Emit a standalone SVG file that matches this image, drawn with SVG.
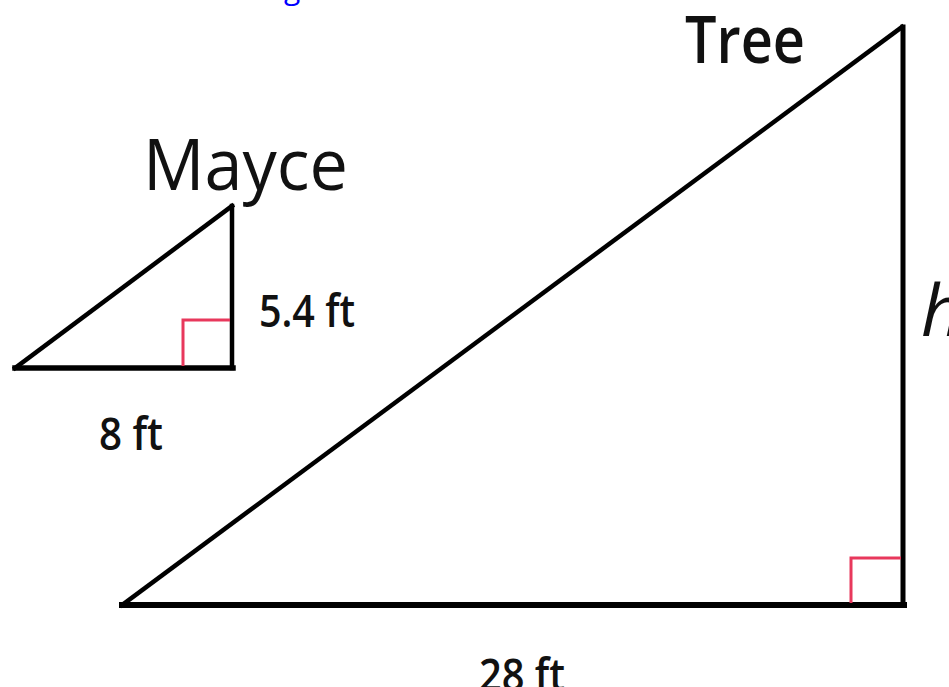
<svg xmlns="http://www.w3.org/2000/svg" width="949" height="687" viewBox="0 0 949 687">
<style>
.edge{fill:none;stroke:#000;stroke-linejoin:miter;stroke-linecap:square}
.mark{fill:none;stroke:#e8385c;stroke-width:3}
.lbl{font-family:"Open Sans","Liberation Sans",sans-serif;fill:#111;font-weight:600}
.name{font-family:"Open Sans","Liberation Sans",sans-serif;fill:#111}
</style>
<rect width="949" height="687" fill="#fff"/>
<g id="link-fragment">
<text x="284" y="-1" font-family="Open Sans, Liberation Sans, sans-serif" font-size="30" fill="#0000ff">g</text>
</g>
<g id="connectors">
<g id="small-triangle">
<path class="edge" d="M15 368 L232 206" stroke-width="4.5"/>
<path class="edge" d="M232 206 L232 368" stroke-width="4.5"/>
<path class="edge" d="M15 368 L233 368" stroke-width="5.5"/>
<path class="mark" d="M183 366 V320 H230"/>
</g>
<g id="large-triangle">
<path class="edge" d="M122 605 L902 27" stroke-width="4.5"/>
<path class="edge" d="M903 27 L903 605" stroke-width="5"/>
<path class="edge" d="M122 605 L904 605" stroke-width="6"/>
<path class="mark" d="M851 603 V558 H901"/>
</g>
</g>
<g id="node-mayce">
<text class="name" x="143" y="190" font-size="72" textLength="205" lengthAdjust="spacingAndGlyphs">Mayce</text>
</g>
<g id="node-tree">
<text class="name" x="685" y="63" font-size="66" font-weight="600" textLength="120" lengthAdjust="spacingAndGlyphs">Tree</text>
</g>
<g id="labels">
<text class="lbl" x="259" y="327" font-size="46" textLength="96" lengthAdjust="spacingAndGlyphs">5.4 ft</text>
<text class="lbl" x="99" y="450" font-size="45" textLength="64" lengthAdjust="spacingAndGlyphs">8 ft</text>
<text class="lbl" x="479" y="691" font-size="46" textLength="86" lengthAdjust="spacingAndGlyphs">28 ft</text>
<text class="name" x="921" y="336" font-size="72" font-style="italic">h</text>
</g>
</svg>
